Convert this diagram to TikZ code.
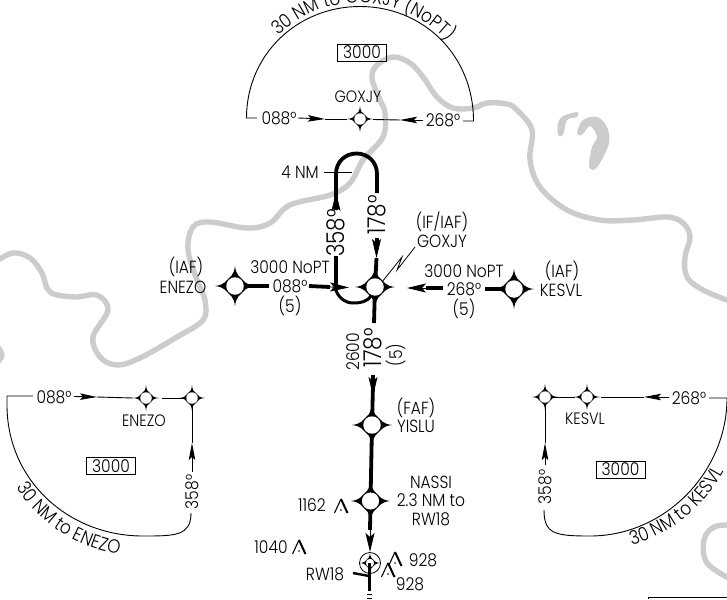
\documentclass[tikz,border=0pt]{standalone}
\usepackage{fontspec}
\setmainfont{Poppins}[UprightFont=* Light,FakeStretch=0.88]
\usetikzlibrary{arrows.meta,decorations.text}
\definecolor{river}{HTML}{CCCCCC}
\newcommand\txtsz{\fontsize{17.6}{20}\selectfont}
\newcommand\bigsz{\fontsize{24.5}{26}\selectfont}
\newcommand\smsz{\fontsize{16.5}{18}\selectfont}
\newcommand\arcsz{\fontsize{19}{22}\selectfont}
\tikzset{
  x=1pt,y=-1pt,
  thin line/.style={line width=0.9pt},
  thick line/.style={line width=3.8pt},
  lbl/.style={inner sep=0pt,font=\txtsz,align=center},
  biglbl/.style={inner sep=0pt,font=\bigsz,rotate=90},
  fixdot/.style={circle,fill=white,draw=none,inner sep=0pt},
  altbox/.style={draw,line width=0.9pt,inner sep=0pt,font=\txtsz,minimum width=49pt,minimum height=17pt},
  riverline/.style={draw=river,line width=5.4pt,line join=round},
  smallhead/.style={-{Stealth[length=17pt,width=6.5pt,inset=3pt]}},
  bighead/.style={-{Stealth[length=19pt,width=9pt,inset=4pt]}}
}
\newcommand\fixmark[4]{%
  \fill[shift={(#2,#3)},scale=#4] (20,0) .. controls (11,1) and (9,5) .. (7,7)
    .. controls (5,9) and (1,11) .. (0,20) .. controls (-1,11) and (-5,9) .. (-7,7)
    .. controls (-9,5) and (-11,1) .. (-20,0) .. controls (-11,-1) and (-9,-5) .. (-7,-7)
    .. controls (-5,-9) and (-1,-11) .. (0,-20) .. controls (1,-11) and (5,-9) .. (7,-7)
    .. controls (9,-5) and (11,-1) .. (20,0) -- cycle;
  \node[fixdot,minimum size=#4*17.5pt] (#1) at (#2,#3) {};}
\newcommand\smallfix[3]{%
  \fill[shift={(#2,#3)}] (13,0) .. controls (8,0.5) and (6,1.5) .. (4.5,4.5)
    .. controls (1.5,6) and (0.5,8) .. (0,13) .. controls (-0.5,8) and (-1.5,6) .. (-4.5,4.5)
    .. controls (-6,1.5) and (-8,0.5) .. (-13,0) .. controls (-8,-0.5) and (-6,-1.5) .. (-4.5,-4.5)
    .. controls (-1.5,-6) and (-0.5,-8) .. (0,-13) .. controls (0.5,-8) and (1.5,-6) .. (4.5,-4.5)
    .. controls (6,-1.5) and (8,-0.5) .. (13,0) -- cycle;
  \node[fixdot,minimum size=11.5pt] (#1) at (#2,#3) {};}
\newcommand\obst[2]{%
  \draw[line width=1.1pt,shift={(#1,#2)},line join=miter] (-6.5,7) -- (0,-7);
  \draw[line width=2pt,shift={(#1,#2)},line join=miter] (0,-7) -- (6.5,7);
  \fill[shift={(#1,#2)}] (0,4) circle (0.8);}
\begin{document}
\begin{tikzpicture}
\useasboundingbox (0,0) rectangle (727,599);
% river
\draw[riverline] plot[smooth,tension=0.6] coordinates {(-5,262)(13,253)(30,258)(42,273)(50,292)(75,297)(97,295)(108,310)(93,337)(100,357)(117,365)(140,358)(177,337)(203,320)(205,300)(197,280)(188,250)(193,227)(210,222)(247,228)(270,223)(290,205)(330,195)(350,183)(363,160)(383,137)(385,113)(380,100)(372,78)(377,65)(393,57)(410,63)(423,77)(437,97)(453,108)(473,108)(487,103)(507,104)(517,110)(532,130)(530,160)(540,187)(567,210)(600,220)(633,220)(667,217)(683,223)(690,237)(685,257)(687,277)(703,290)(732,302)};
\draw[riverline] plot[smooth,tension=0.6] coordinates {(-4,345)(2,355)(-4,364)};
\draw[riverline] plot[smooth,tension=0.6] coordinates {(732,525)(714,527)(704,540)(707,563)(732,580)};
\fill[river] plot[smooth cycle,tension=0.6] coordinates {(577,133)(583,120)(597,117)(607,127)(609,143)(600,163)(593,170)(589,165)(592,147)(597,137)(590,126)(582,135)};
\fill[river] plot[smooth cycle,tension=0.5] coordinates {(558,123)(563,116)(577,112)(577,117)(567,120)(563,135)(558,135)};

% top entry
\coordinate (tl) at (246.5,118); \coordinate (tr) at (473.5,121);
\coordinate (tlt) at (257,118); \coordinate (trt) at (463,121);
\draw[thin line] (tlt) -- (tl) .. controls (246.5,55) and (297,6.5) .. (360,6.5) .. controls (423,6.5) and (473.5,55) .. (tr) -- (trt);
\path[decorate,decoration={text along path,text align=center,text={|\arcsz|30 NM to GOXJY (NoPT)}}] plot[domain=168:8,samples=50] ({360+117*cos(\x)},{119.5-117*sin(\x)});
\node[altbox] (boxt) at (362,52.5) {3000};
\node[lbl] (tg) at (358,97) {\smsz GOXJY};
\node[lbl] (t088) at (279,118) {088°};
\node[lbl] (t268) at (443,120) {268°};
\smallfix{fixt}{360}{119}
\coordinate (t1) at (298,118); \coordinate (t1h) at (325,119); \coordinate (t1e) at (347,119);
\draw[thin line,smallhead] (t1) -- (t1h); \draw[thin line] (t1h) -- (t1e);
\coordinate (t2) at (423,120); \coordinate (t2h) at (400,120); \coordinate (t2e) at (373,119.5);
\draw[thin line,smallhead] (t2) -- (t2h); \draw[thin line] (t2h) -- (t2e);

% main fixes
\fixmark{goxjy}{375}{287}{1}
\fixmark{enezo}{235}{286}{1}
\fixmark{kesvl}{514}{289}{1}
\fixmark{yislu}{372}{425}{1}
\fixmark{nassi}{370.5}{501}{0.98}

% racetrack
\coordinate (rl1) at (336,287); \coordinate (rl2) at (336,256); \coordinate (rl3) at (336,210); \coordinate (rlh) at (336,192);
\coordinate (rr1) at (377,193); \coordinate (rr2) at (377,238); \coordinate (rrh) at (376.5,258);
\draw[thick line,line cap=butt] (rl1) -- (rl2);
\draw[thick line] (rl3) -- (336,174) .. controls (336,162) and (345,153.5) .. (356.5,153.5) .. controls (368,153.5) and (377,162) .. (377,174) -- (rr1);
\draw[thin line,bighead] (rl3) -- (rlh);
\draw[thick line] (rr2) -- (376.5,250);
\draw[thin line,bighead] (376.5,240) -- (rrh);
\draw[thick line] (rrh) -- (goxjy);
\draw[line width=3pt] (335,287) .. controls (337,297) and (345,303) .. (353,303) .. controls (360,303) and (368,302) .. (goxjy);
\node[biglbl] (l358) at (336,233) {358°};
\node[biglbl] (l178a) at (377,215) {178°};
\coordinate (t4a) at (324,172); \coordinate (t4b) at (352,172);
\draw[thin line] (t4a) -- (t4b);
\node[lbl] (l4nm) at (300,172) {4 NM};

% from ENEZO
\coordinate (e1) at (269,286); \coordinate (e2) at (309,286); \coordinate (e3) at (330,287); \coordinate (e4) at (349,287.5);
\draw[thick line] (enezo) -- (e1);
\draw[thick line] (e2) -- (e3);
\draw[thin line,bighead] (e3) -- (e4);
\node[lbl] (e3000) at (290,267) {3000 NoPT};
\node[lbl] (e088) at (290,286) {088°};
\node[lbl] (e5) at (290,306) {(5)};
\node[lbl] (eiaf) at (186,267) {(IAF)};
\node[lbl] (ename) at (183,287) {ENEZO};

% from KESVL
\coordinate (k1) at (485,289); \coordinate (k2) at (443,288); \coordinate (k3) at (426,288); \coordinate (k4) at (407,288);
\draw[thick line] (kesvl) -- (k1);
\draw[thick line] (k2) -- (k3);
\draw[thin line,bighead] (k3) -- (k4);
\node[lbl] (k3000) at (464,271) {3000 NoPT};
\node[lbl] (k268) at (464,289) {268°};
\node[lbl] (k5) at (464,309) {(5)};
\node[lbl] (kiaf) at (562,271) {(IAF)};
\node[lbl] (kname) at (561,290) {KESVL};

% GOXJY label
\node[lbl] (giaf) at (442,222) {(IF/IAF)};
\node[lbl] (gname) at (442,241) {GOXJY};
\coordinate (z1) at (415,247); \coordinate (z2) at (397,270); \coordinate (z3) at (402,257); \coordinate (z4) at (382,282);
\draw[line width=0.8pt] (z1) -- (z2) -- (z3) -- (z4);

% final
\coordinate (m1) at (374,323); \coordinate (m2) at (373,375); \coordinate (m3) at (373,385); \coordinate (m4) at (373,396);
\draw[thick line] (goxjy) -- (m1);
\draw[thick line] (m2) -- (m3);
\draw[thin line,bighead] (m2) -- (m4);
\draw[thick line] (m3) -- (yislu);
\node[biglbl] (l178b) at (373,348) {178°};
\node[lbl,rotate=90] (l2600) at (353,352) {2600};
\node[lbl,rotate=90] (l5v) at (396,355) {(5)};
\node[lbl] (yfaf) at (416,408) {(FAF)};
\node[lbl] (yname) at (416,426) {YISLU};
\draw[thick line] (yislu) -- (nassi);
\node[lbl] (n1) at (431,482) {NASSI};
\node[lbl] (n2) at (431,500) {2.3 NM to};
\node[lbl] (n3) at (431,519) {RW18};
\node[circle,draw,line width=0.8pt,inner sep=0pt,minimum size=21pt] (rwc) at (370,563) {};
\fixmark{rw}{370}{563}{0.48}
\coordinate (n5) at (370,552); \coordinate (n6) at (370,530);
\draw[thick line] (nassi) -- (n6);
\draw[thin line,bighead] (n6) -- (n5);
\coordinate (rw1) at (353,573); \coordinate (rw2) at (369,576); \coordinate (rw3) at (369.5,591);
\draw[line width=2.4pt,line join=miter] (rw1) -- (rw2);
\draw[line width=2.4pt] (369.5,563) -- (rw3);
\draw[line width=1pt] (367,594) -- (372,594);
\draw[line width=1pt] (367,598) -- (372,598);
\node[lbl] (lrw) at (325,574) {RW18};
\node[lbl] (o1) at (312,505) {1162};
\obst{341}{506}
\node[lbl] (o2) at (271,547) {1040};
\obst{299}{547}
\node[lbl] (o3) at (423,560) {928};
\obst{395}{559}
\node[lbl] (o4) at (410,584) {928};
\obst{388}{570}

% ENEZO entry
\coordinate (a1) at (33,396); \coordinate (a2) at (7,396); \coordinate (a3) at (7,405); \coordinate (a4) at (143,536);\coordinate (a5) at (191,513);
\draw[thin line] (a1) -- (a2) -- (a3) .. controls (7,480) and (68,536) .. (a4) .. controls (175,536) and (191,536) .. (a5);
\node[lbl] (b088) at (54,397) {088°};
\smallfix{fe1}{146}{398}
\smallfix{fe2}{192}{398}
\coordinate (b1) at (74,396.5); \coordinate (b2) at (97,397); \coordinate (b3) at (133,398);
\draw[thin line,smallhead] (b1) -- (b2); \draw[thin line] (b2) -- (b3);
\coordinate (b4) at (162,398); \draw[thin line] (b4) -- (fe2);
\coordinate (b5) at (192,472); \coordinate (b6) at (192,443);
\draw[thin line,smallhead] (b5) -- (b6); \draw[thin line] (b6) -- (fe2);
\node[lbl,rotate=90] (b358) at (192,492) {358°};
\node[lbl] (bname) at (144,421) {\smsz ENEZO};
\node[altbox] (boxe) at (111,466) {3000};
\path[decorate,decoration={text along path,text align=center,text={|\arcsz|30 NM to ENEZO}}] plot[domain=165:81,samples=50] ({143+151.5*cos(\x)},{405+151.5*sin(\x)});

% KESVL entry
\coordinate (c1) at (709,398); \coordinate (c2) at (727,398); \coordinate (c4) at (590,536); \coordinate (c5) at (544,510);
\draw[thin line] (c1) -- (c2) .. controls (727,472) and (665,536) .. (c4) .. controls (555,536) and (544,534) .. (c5);
\node[lbl] (d268) at (689,398) {268°};
\smallfix{fk1}{587}{397}
\smallfix{fk2}{545}{397}
\coordinate (d1) at (669,397); \coordinate (d2) at (644,397); \coordinate (d3) at (601,397);
\draw[thin line,smallhead] (d1) -- (d2); \draw[thin line] (d2) -- (d3);
\coordinate (d4) at (575,397); \draw[thin line] (d4) -- (fk2);
\coordinate (d5) at (545,465); \coordinate (d6) at (545,443);
\draw[thin line,smallhead] (d5) -- (d6); \draw[thin line] (d6) -- (fk2);
\node[lbl,rotate=90] (d358) at (545,487) {358°};
\node[lbl] (dname) at (585,419) {\smsz KESVL};
\node[altbox] (boxk) at (620.5,469.5) {3000};
\path[decorate,decoration={text along path,text align=center,text={|\arcsz|30 NM to KESVL}}] plot[domain=94:8,samples=50] ({590+151.5*cos(\x)},{400+151.5*sin(\x)});

% chart frame corner
\coordinate (f1) at (648,599); \coordinate (f2) at (648,597); \coordinate (f3) at (727,597);
\draw[thin line] (f1) -- (f2) -- (f3);
\end{tikzpicture}
\end{document}
